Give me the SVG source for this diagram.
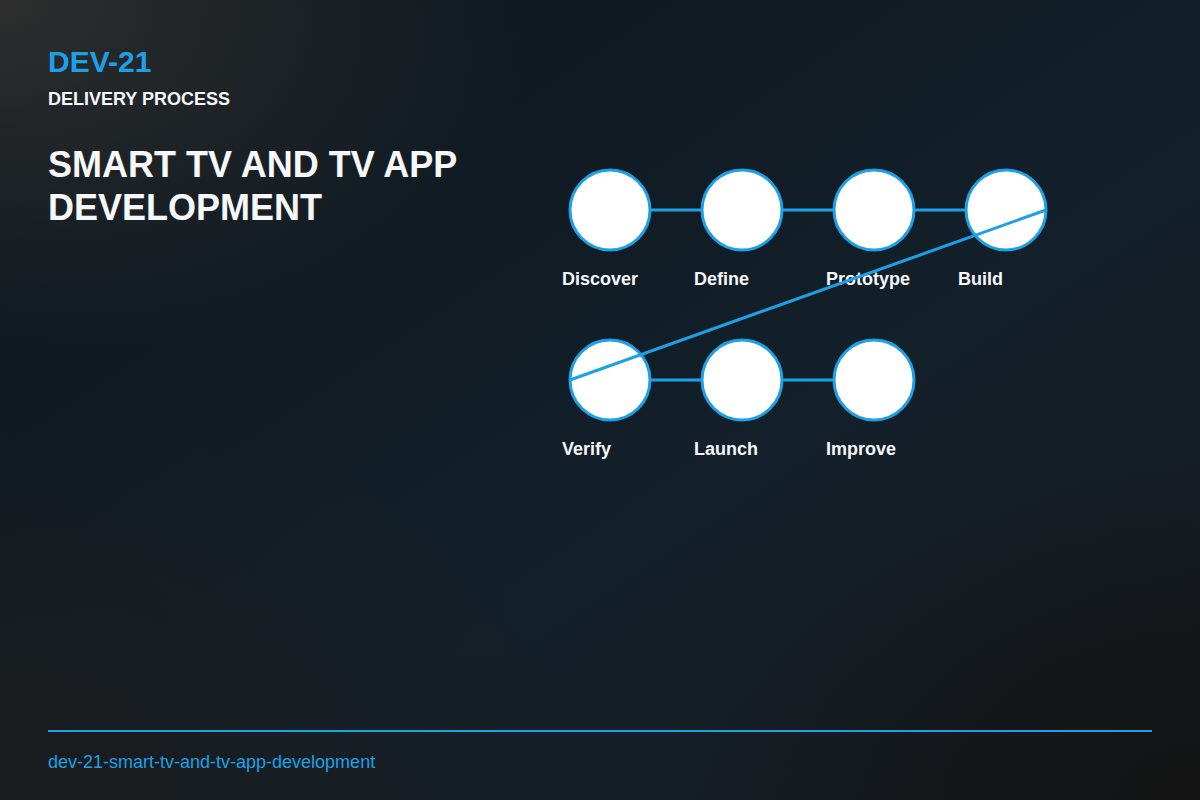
<svg xmlns="http://www.w3.org/2000/svg" width="1200" height="800" viewBox="0 0 1200 800">
<defs>
<linearGradient id="bg" x1="0" y1="0" x2="1" y2="1">
<stop offset="0" stop-color="#0b151b"/>
<stop offset="0.6" stop-color="#14202a"/>
<stop offset="1" stop-color="#161b20"/>
</linearGradient>
<radialGradient id="glowTL" cx="0" cy="0" r="0.45">
<stop offset="0" stop-color="#2e2e2e" stop-opacity="1"/>
<stop offset="1" stop-color="#2e2e2e" stop-opacity="0"/>
</radialGradient>
<radialGradient id="glowBL" cx="0" cy="1" r="0.5">
<stop offset="0" stop-color="#1c1c1c" stop-opacity="0.9"/>
<stop offset="1" stop-color="#1c1c1c" stop-opacity="0"/>
</radialGradient>
<radialGradient id="glowBR" cx="1" cy="1" r="0.45">
<stop offset="0" stop-color="#131313" stop-opacity="1"/>
<stop offset="1" stop-color="#131313" stop-opacity="0"/>
</radialGradient>
<style>
.node circle{fill:#ffffff;stroke:#1da1e6;stroke-width:3}
.lbl{font-family:"Liberation Sans",Arial,sans-serif;font-weight:bold;font-size:18px;fill:#f5f7fa}
.conn line{stroke:#1da1e6;stroke-width:3}
</style>
</defs>
<rect width="1200" height="800" fill="url(#bg)"/>
<rect width="1200" height="800" fill="url(#glowTL)"/>
<rect width="1200" height="800" fill="url(#glowBL)"/>
<rect width="1200" height="800" fill="url(#glowBR)"/>

<g id="header" font-family="Liberation Sans, Arial, sans-serif" font-weight="bold">
<text x="48" y="72" font-size="30" fill="#1da1e6">DEV-21</text>
<text x="48" y="105" font-size="18" fill="#f5f7fa">DELIVERY PROCESS</text>
<text x="48" y="177" font-size="36" fill="#f5f7fa">SMART TV AND TV APP</text>
<text x="48" y="220" font-size="36" fill="#f5f7fa">DEVELOPMENT</text>
</g>

<g id="n-discover" class="node"><circle cx="610" cy="210" r="40"/><text class="lbl" x="562" y="285">Discover</text></g>
<g id="n-define" class="node"><circle cx="742" cy="210" r="40"/><text class="lbl" x="694" y="285">Define</text></g>
<g id="n-prototype" class="node"><circle cx="874" cy="210" r="40"/><text class="lbl" x="826" y="285">Prototype</text></g>
<g id="n-build" class="node"><circle cx="1006" cy="210" r="40"/><text class="lbl" x="958" y="285">Build</text></g>
<g id="n-verify" class="node"><circle cx="610" cy="380" r="40"/><text class="lbl" x="562" y="455">Verify</text></g>
<g id="n-launch" class="node"><circle cx="742" cy="380" r="40"/><text class="lbl" x="694" y="455">Launch</text></g>
<g id="n-improve" class="node"><circle cx="874" cy="380" r="40"/><text class="lbl" x="826" y="455">Improve</text></g>

<g id="connectors" class="conn">
<line x1="650" y1="210" x2="702" y2="210"/>
<line x1="782" y1="210" x2="834" y2="210"/>
<line x1="914" y1="210" x2="966" y2="210"/>
<line x1="1046" y1="210" x2="570" y2="380" stroke-width="2"/>
<line x1="650" y1="380" x2="702" y2="380"/>
<line x1="782" y1="380" x2="834" y2="380"/>
</g>

<g id="footer">
<line x1="48" y1="731" x2="1152" y2="731" stroke="#1da1e6" stroke-width="2"/>
<text x="48" y="768" font-family="Liberation Sans, Arial, sans-serif" font-size="18" fill="#1da1e6">dev-21-smart-tv-and-tv-app-development</text>
</g>
</svg>
